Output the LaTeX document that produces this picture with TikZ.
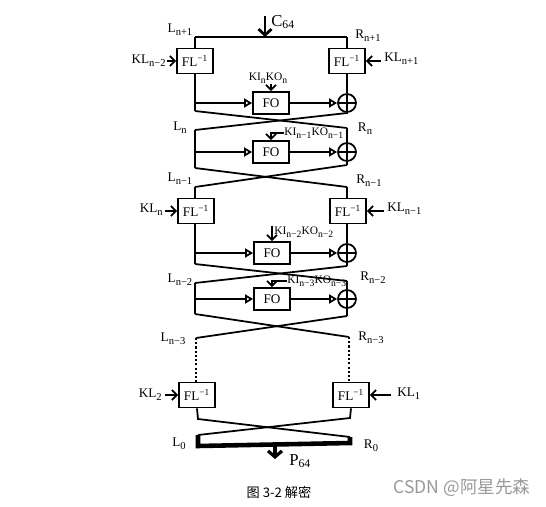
\documentclass[tikz,border=0pt]{standalone}
\usepackage{fontspec}
\setmainfont{Liberation Serif}
\newfontfamily\cjk{Noto Sans CJK SC}
\usepackage{tikz}
\usetikzlibrary{arrows.meta}
\newcommand{\subidx}[1]{\raisebox{-0.55ex}{\fontsize{6}{7}\selectfont #1}}
\newcommand{\ksub}[1]{\raisebox{-0.55ex}{\fontsize{5.5}{6}\selectfont #1}}
\tikzset{wire/.style = {line width=1pt},
         box/.style = {draw, line width=1pt, inner sep=0pt,
                       minimum width=7.2mm, minimum height=5mm,
                       font=\fontsize{7.5}{9}\selectfont},
         fobox/.style = {box, minimum height=4.4mm},
         xor/.style = {draw, circle, line width=1pt, inner sep=0pt, minimum size=3.6mm,
                       path picture={\draw [line width=1pt]
                         (path picture bounding box.north) -- (path picture bounding box.south)
                         (path picture bounding box.west) -- (path picture bounding box.east);}},
         lab/.style = {inner sep=0pt, font=\fontsize{7.5}{9}\selectfont},
         klab/.style = {inner sep=0pt, font=\fontsize{6.5}{8}\selectfont},
         big/.style = {inner sep=0pt, font=\fontsize{9.5}{11}\selectfont},
         tri/.style = {wire, -{Triangle[open, length=1.6mm, width=1.8mm]}},
         key/.style = {wire, -{Straight Barb[length=1mm, width=2mm]}},
         dots/.style = {line width=1.2pt, dash pattern=on 1.2pt off 1.2pt}}
\definecolor{wmgray}{rgb}{0.6, 0.6, 0.6}

\begin{document}
\begin{tikzpicture}[x=0.2mm, y=-0.2mm]
    \useasboundingbox (0, 0) rectangle (546, 507);

    % input
    \coordinate (tl) at (195, 37);
    \coordinate (tr) at (347, 37);
    \coordinate (cin) at (265, 37);
    \coordinate (cstart) at (265, 16);
    \node [big, anchor=west] (c64) at (271, 22) {C\textsubscript{64}};
    \draw [wire] (tl) -- (tr);
    \draw [line width=1.6pt, -{Straight Barb[length=1.2mm, width=2.6mm]}] (cstart) -- (cin);
    \node [lab] (ln1) at (180, 30) {L\subidx{n+1}};
    \node [lab] (rn1) at (368, 36) {R\subidx{n+1}};

    % round 1
    \node [box] (fl1) at (195, 61) {FL\textsuperscript{−1}};
    \node [box] (fr1) at (347, 61) {FL\textsuperscript{−1}};
    \node [lab, anchor=east] (kl1) at (166, 61) {KL\subidx{n−2}};
    \node [lab, anchor=west] (kr1) at (384, 59) {KL\subidx{n+1}};
    \draw [key] ([xshift=0.2mm]kl1.east |- fl1) -- (fl1.west);
    \draw [key] ([xshift=-0.6mm]kr1.west |- fr1) -- (fr1.east);
    \draw [wire] (tl) -- (fl1.north);
    \draw [wire] (tr) -- (fr1.north);
    \node [fobox] (fo1) at (271, 103) {FO};
    \node [xor] (x1) at (347, 103) {};
    \node [klab] (k1) at (268, 78) {KI\ksub{n}KO\ksub{n}};
    \draw [key] (fo1.north |- k1.south) -- (fo1.north);
    \coordinate (a1) at (195, 111);
    \coordinate (b1) at (347, 113);
    \draw [wire] (fl1.south) -- (a1);
    \draw [tri] (fl1.south |- fo1) -- (fo1.west);
    \draw [tri] (fo1.east) -- (x1.west);
    \draw [wire] (fr1.south) -- (x1.north);
    \draw [wire] (x1.south) -- (b1);
    \coordinate (l2) at (195, 130);
    \coordinate (r2) at (347, 128);
    \draw [wire] (a1) -- (r2);
    \draw [wire] (b1) -- (l2);

    % round 2
    \node [lab] (ln) at (180, 128) {L\subidx{n}};
    \node [lab] (rn) at (365, 129) {R\subidx{n}};
    \node [fobox] (fo2) at (271, 152) {FO};
    \node [xor] (x2) at (347, 152) {};
    \node [klab, anchor=west] (k2) at (284, 133) {KI\ksub{n−1}KO\ksub{n−1}};
    \draw [key] (k2.west) -| (fo2.north);
    \coordinate (a2) at (195, 168);
    \coordinate (b2) at (347, 165);
    \draw [wire] (l2) -- (a2);
    \draw [tri] (l2 |- fo2) -- (fo2.west);
    \draw [tri] (fo2.east) -- (x2.west);
    \draw [wire] (r2) -- (x2.north);
    \draw [wire] (x2.south) -- (b2);
    \coordinate (l3) at (195, 187);
    \coordinate (r3) at (347, 187);
    \draw [wire] (a2) -- (r3);
    \draw [wire] (b2) -- (l3);

    % round 3
    \node [lab] (ln2) at (180, 179) {L\subidx{n−1}};
    \node [lab] (rn2) at (369, 181) {R\subidx{n−1}};
    \node [box] (fl3) at (196, 211) {FL\textsuperscript{−1}};
    \node [box] (fr3) at (348, 211) {FL\textsuperscript{−1}};
    \node [lab, anchor=east] (kl3) at (163, 210) {KL\subidx{n}};
    \node [lab, anchor=west] (kr3) at (387, 209) {KL\subidx{n−1}};
    \draw [key] ([xshift=0.3mm]kl3.east |- fl3) -- (fl3.west);
    \draw [key] ([xshift=-0.6mm]kr3.west |- fr3) -- (fr3.east);
    \draw [wire] (l3) -- (l3 |- fl3.north);
    \draw [wire] (r3) -- (r3 |- fr3.north);
    \node [fobox] (fo3) at (272, 253) {FO};
    \node [xor] (x3) at (347, 253) {};
    \node [klab, anchor=west] (k3) at (274, 232) {KI\ksub{n−2}KO\ksub{n−2}};
    \draw [key] (fo3.north |- k3.north) -- (fo3.north);
    \coordinate (a3) at (195, 264);
    \coordinate (b3) at (347, 266);
    \draw [wire] (l3 |- fl3.south) -- (a3);
    \draw [tri] (l3 |- fo3) -- (fo3.west);
    \draw [tri] (fo3.east) -- (x3.west);
    \draw [wire] (r3 |- fr3.south) -- (x3.north);
    \draw [wire] (x3.south) -- (b3);
    \coordinate (l4) at (195, 283);
    \coordinate (r4) at (347, 281);
    \draw [wire] (a3) -- (r4);
    \draw [wire] (b3) -- (l4);

    % round 4
    \node [lab] (ln3) at (180, 280) {L\subidx{n−2}};
    \node [lab] (rn3) at (373, 278) {R\subidx{n−2}};
    \node [fobox] (fo4) at (272, 299) {FO};
    \node [xor] (x4) at (347, 299) {};
    \node [klab, anchor=west] (k4) at (287, 281) {KI\ksub{n−3}KO\ksub{n−3}};
    \draw [key] (k4.west) -| (fo4.north);
    \coordinate (a4) at (195, 314);
    \coordinate (b4) at (347, 316);
    \draw [wire] (l4) -- (a4);
    \draw [tri] (l4 |- fo4) -- (fo4.west);
    \draw [tri] (fo4.east) -- (x4.west);
    \draw [wire] (r4) -- (x4.north);
    \draw [wire] (x4.south) -- (b4);
    \coordinate (l5) at (196, 338);
    \coordinate (r5) at (349, 337);
    \draw [wire] (a4) -- (r5);
    \draw [wire] (b4) -- (l5);

    % last FL layer
    \node [lab] (ln4) at (173, 339) {L\subidx{n−3}};
    \node [lab] (rn4) at (371, 338) {R\subidx{n−3}};
    \node [box] (fl5) at (197, 395) {FL\textsuperscript{−1}};
    \node [box] (fr5) at (351, 395) {FL\textsuperscript{−1}};
    \draw [dots] (l5) -- (l5 |- fl5.north);
    \draw [dots] (r5) -- (r5 |- fr5.north);
    \node [lab, anchor=east] (kl5) at (162, 395) {KL\subidx{2}};
    \node [lab, anchor=west] (kr5) at (397, 394) {KL\subidx{1}};
    \draw [key] ([xshift=0.6mm]kl5.east |- fl5) -- (fl5.west);
    \draw [key] ([xshift=-1.2mm]kr5.west |- fr5) -- (fr5.east);

    % output
    \coordinate (a5) at (198, 419);
    \coordinate (b5) at (350, 418);
    \coordinate (l0t) at (198, 435);
    \coordinate (r0t) at (350, 437);
    \coordinate (l0b) at (198, 446);
    \coordinate (r0b) at (350, 443);
    \draw [wire] (fl5.south) -- (a5) -- (r0t);
    \draw [wire] (fr5.south) -- (b5) -- (l0t);
    \draw [line width=2.6pt] (l0t) -- (l0b) -- (r0b) -- (r0t);
    \node [lab] (l0) at (179, 444) {L\subidx{0}};
    \node [lab] (r0) at (371, 446) {R\subidx{0}};
    \coordinate (pout) at (275, 444);
    \coordinate (pend) at (275, 459);
    \draw [line width=1.8pt, -{Straight Barb[length=1.2mm, width=2.8mm]}] (pout) -- (pend);
    \node [big, anchor=west] (p64) at (289, 461) {P\textsubscript{64}};

    \node [inner sep=0pt, font=\cjk\fontsize{7.5}{9}\selectfont] (cap) at (279, 492) {图 3-2 解密};
    \node [inner sep=0pt, text=wmgray, font=\cjk\fontsize{10}{12}\selectfont] (wm) at (462, 488) {CSDN @阿星先森};
  \end{tikzpicture}
\end{document}
